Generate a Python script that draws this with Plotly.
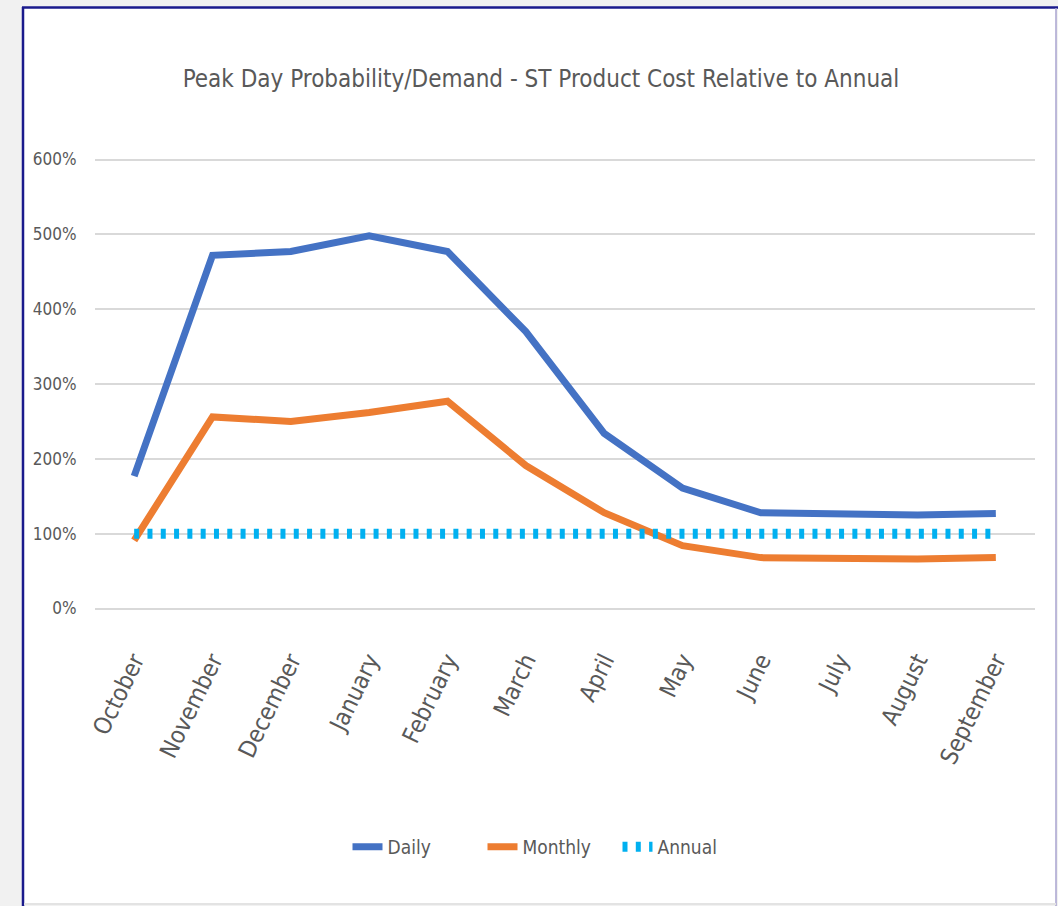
import plotly.graph_objects as go

months = ["October", "November", "December", "January", "February", "March",
          "April", "May", "June", "July", "August", "September"]
daily = [177, 472, 477, 498, 477, 370, 234, 161, 128, 127, 125, 127]
monthly = [91, 256, 250, 262, 277, 191, 128, 84, 68, 66, 66, 68]
annual = [100] * 12

FONT = "Liberation Sans Narrow, DejaVu Sans Condensed, Arial Narrow, sans-serif"
TXT = "#595959"

# figure pixel geometry
W, H = 1058, 906
L, R, T, B = 95, 23, 158, 296
pw, ph = W - L - R, H - T - B


def px(x):
    return (x - L) / pw


def py(y):
    return (H - B - y) / ph


fig = go.Figure()
fig.add_trace(go.Scatter(x=months, y=daily, name="Daily", mode="lines",
                         line=dict(color="#4472C4", width=7)))
fig.add_trace(go.Scatter(x=months, y=monthly, name="Monthly", mode="lines",
                         line=dict(color="#ED7D31", width=7)))
fig.add_trace(go.Scatter(x=months, y=annual, name="Annual", mode="lines",
                         line=dict(color="#00B0F0", width=10, dash="5px,8.3px")))

shapes = [
    dict(type="rect", xref="paper", yref="paper", x0=px(23), x1=px(1056),
         y0=py(903), y1=py(8), fillcolor="white", line=dict(width=0), layer="below"),
    dict(type="line", xref="paper", yref="paper", x0=px(23), x1=px(23),
         y0=py(906), y1=py(7), line=dict(color="#1a1a8c", width=2.5), layer="below"),
    dict(type="line", xref="paper", yref="paper", x0=px(22), x1=px(1058),
         y0=py(7.5), y1=py(7.5), line=dict(color="#1a1a8c", width=2.5), layer="below"),
    dict(type="line", xref="paper", yref="paper", x0=px(1056), x1=px(1056),
         y0=py(906), y1=py(8), line=dict(color="#a9a3cf", width=1.5), layer="below"),
    dict(type="line", xref="paper", yref="paper", x0=px(24), x1=px(1056),
         y0=py(904), y1=py(904), line=dict(color="#e3e3e3", width=2), layer="below"),
]

fig.update_layout(
    width=W, height=H,
    margin=dict(l=L, r=R, t=T, b=B, pad=0),
    paper_bgcolor="#f1f1f1",
    plot_bgcolor="white",
    font=dict(family=FONT, color=TXT, size=20),
    title=dict(text="Peak Day Probability/Demand - ST Product Cost Relative to Annual",
               x=541 / W, xref="container", xanchor="center",
               y=1 - 79 / H, yref="container", yanchor="middle",
               font=dict(family=FONT, size=24, color=TXT)),
    showlegend=True,
    legend=dict(orientation="h", x=px(550), xanchor="center", y=py(847), yanchor="middle",
                font=dict(family=FONT, size=19, color=TXT), bgcolor="rgba(0,0,0,0)",
                entrywidth=90, traceorder="normal"),
    shapes=shapes,
)

fig.update_xaxes(
    type="category", range=[-0.5, 11.5], tickangle=-64, showgrid=False, showline=False,
    zeroline=False, ticks="outside", ticklen=26, tickcolor="rgba(0,0,0,0)",
    tickfont=dict(family=FONT, size=24, color=TXT),
)
fig.update_yaxes(
    range=[-2, 602], dtick=100, ticksuffix="%", showgrid=True, gridcolor="#d9d9d9",
    gridwidth=2, zeroline=False, showline=False,
    ticks="outside", ticklen=14, tickcolor="rgba(0,0,0,0)",
    tickfont=dict(family=FONT, size=17, color=TXT),
)

fig.write_html("out.html")
